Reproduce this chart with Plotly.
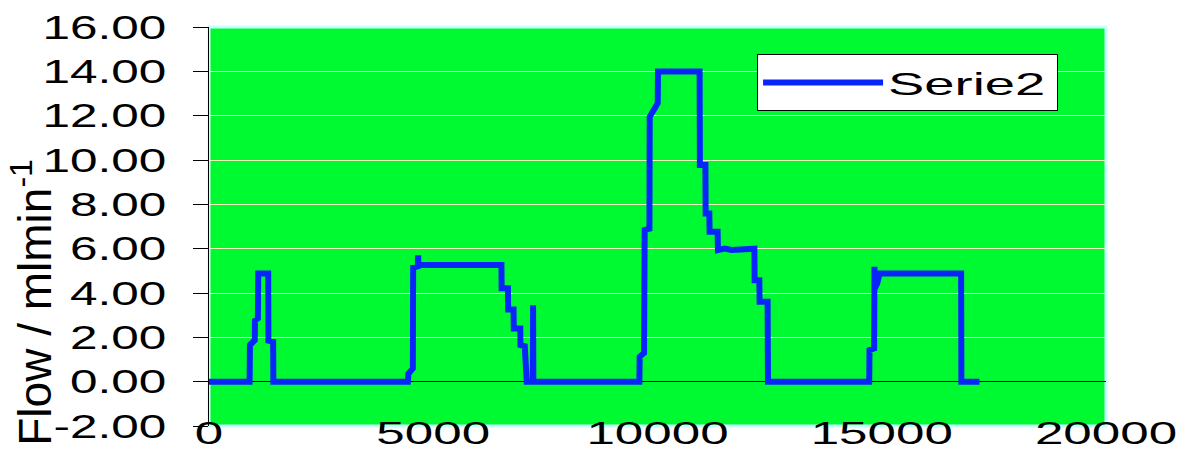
import plotly.graph_objects as go

# Flow trace: time (x) versus flow rate (ml/min)
time = [
    0, 905, 913, 1020, 1025, 1090, 1098, 1320, 1325, 1430, 1435,
    4435, 4445, 4545, 4552, 4655, 4663, 4670, 6520, 6525, 6665, 6670,
    6790, 6795, 6940, 6945, 7040, 7075, 7085, 7220, 7226, 7232,
    9595, 9603, 9700, 9714, 9820, 9826, 9900, 10005, 10011, 10939, 10945,
    11068, 11073, 11155, 11162, 11340, 11348, 11500, 11650, 12100, 12160,
    12165, 12270, 12277, 12455, 12463,
    14720, 14727, 14830, 14838, 14845, 14900, 14950, 16770, 16776, 17180,
]
flow = [
    0, 0, 1.65, 1.87, 2.75, 2.85, 4.88, 4.88, 1.85, 1.80, 0,
    0, 0.35, 0.60, 5.15, 5.20, 5.70, 5.26, 5.26, 4.21, 4.21, 3.26,
    3.26, 2.40, 2.40, 1.65, 1.60, 0.50, 0, 0, 3.45, 0,
    0, 1.12, 1.30, 6.84, 6.90, 11.95, 12.20, 12.56, 13.99, 13.99, 9.77,
    9.77, 7.59, 7.59, 6.76, 6.76, 5.94, 6.00, 5.94, 5.94, 6.00,
    4.58, 4.58, 3.60, 3.60, 0,
    0, 1.42, 1.50, 5.18, 4.20, 4.44, 4.88, 4.88, 0, 0,
]

y_ticks = [-2, 0, 2, 4, 6, 8, 10, 12, 14, 16]
y_tick_labels = ["-2.00", "0.00", "2.00", "4.00", "6.00", "8.00",
                 "10.00", "12.00", "14.00", "16.00"]
x_ticks = [0, 5000, 10000, 15000, 20000]
x_tick_labels = ["0", "5000", "10000", "15000", "20000"]

FONT = "Arial, Liberation Sans, sans-serif"
GREEN = "rgb(0,250,50)"
BLUE = "rgb(8,38,250)"

fig = go.Figure()
fig.add_trace(go.Scatter(
    x=time, y=flow, mode="lines", name="Serie2",
    line=dict(color=BLUE, width=6),
))

fig.update_layout(
    width=1189, height=451,
    margin=dict(l=209, r=83, t=27, b=25, pad=0, autoexpand=False),
    paper_bgcolor="white",
    plot_bgcolor=GREEN,
    font=dict(family=FONT, color="black"),
    showlegend=True,
    legend=dict(
        x=0.611, y=0.932, xanchor="left", yanchor="top",
        bgcolor="white", bordercolor="black", borderwidth=1,
        font=dict(family=FONT, size=32, color="black"),
        itemwidth=120,
    ),
    xaxis=dict(
        range=[0, 20000], tickvals=x_ticks, ticktext=x_tick_labels,
        showgrid=False, zeroline=False, showline=False, ticks="",
        tickfont=dict(family=FONT, size=31),
        ticklabelstandoff=-14, automargin=False,
    ),
    # tick marks along the y = 0 line
    xaxis2=dict(
        overlaying="x", matches="x", anchor="free", position=2 / 18,
        showline=False, ticks="outside", ticklen=10, tickwidth=1,
        tickcolor="black", tickvals=x_ticks,
        showticklabels=False, showgrid=False, zeroline=False,
        automargin=False,
    ),
    yaxis=dict(
        range=[-2, 16], tickvals=y_ticks, ticktext=y_tick_labels,
        showgrid=True, gridcolor="rgb(240,255,190)", gridwidth=1,
        zeroline=True, zerolinecolor="black", zerolinewidth=1,
        showline=True, linecolor="black", linewidth=1,
        ticks="outside", ticklen=15, tickcolor="black",
        tickfont=dict(family=FONT, size=33),
        ticklabelstandoff=20, automargin=False,
        layer="below traces",
    ),
    shapes=[dict(
        type="rect", xref="paper", yref="paper", x0=0, x1=1, y0=0, y1=1,
        line=dict(color="rgb(200,255,255)", width=3), layer="below",
    )],
    annotations=[dict(
        text="Flow / mlmin<sup>-1</sup>", textangle=-90,
        xref="paper", yref="paper", x=-0.197, y=-0.055,
        xanchor="center", yanchor="bottom", showarrow=False,
        font=dict(family=FONT, size=46, color="black"),
    )],
)

# Widen the tick and legend lettering horizontally
post = """
var gd = document.getElementById('{plot_id}');
function stretchText(sel, sx) {
  gd.querySelectorAll(sel).forEach(function (t) {
    if (t.getAttribute('data-sx')) return;
    var x = parseFloat(t.getAttribute('x')) || 0;
    var tr = t.getAttribute('transform') || '';
    t.setAttribute('transform', tr + ' translate(' + x + ',0) scale(' + sx + ',1) translate(' + (-x) + ',0)');
    t.setAttribute('data-sx', sx);
  });
}
function widenLegend(sx, pad) {
  var leg = gd.querySelector('.legend');
  if (!leg || leg.getAttribute('data-sx')) return;
  var t = leg.querySelector('text.legendtext');
  if (!t) return;
  var extra = t.getComputedTextLength() * (sx - 1) + pad;
  stretchText('.legend text.legendtext', sx);
  var bg = leg.querySelector('rect.bg');
  bg.setAttribute('width', parseFloat(bg.getAttribute('width')) + extra);
  document.querySelectorAll('clipPath[id^="legend"] rect').forEach(function (r) {
    r.setAttribute('width', parseFloat(r.getAttribute('width')) + extra);
  });
  leg.setAttribute('data-sx', sx);
}
function applyStretch() {
  stretchText('.ytick text', 1.5);
  stretchText('.xtick text', 1.65);
  widenLegend(1.7, 6);
}
applyStretch();
gd.on('plotly_afterplot', applyStretch);
"""

fig.write_html("out.html", post_script=post)
